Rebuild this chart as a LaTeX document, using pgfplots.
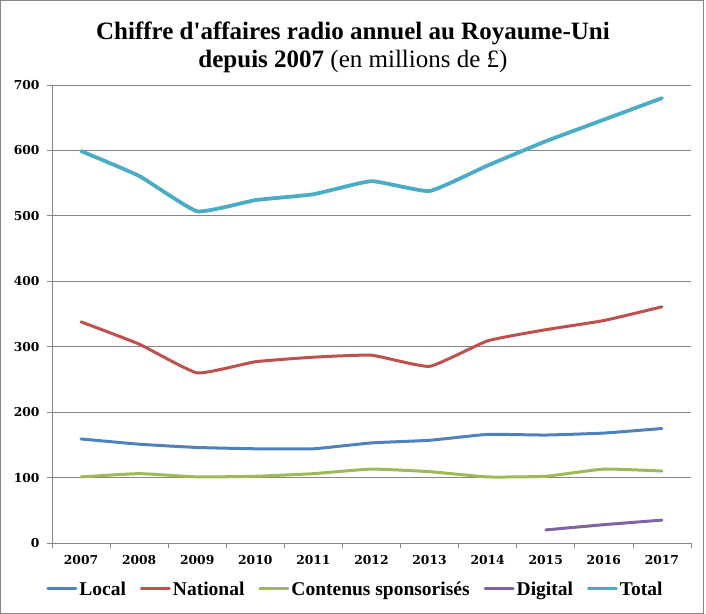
\documentclass[border=0pt]{standalone}
\usepackage{fontspec}
\setmainfont{Liberation Serif}
\newfontfamily\tickfont{DejaVu Serif}
\usepackage{pgfplots}
\pgfplotsset{compat=1.18}

\definecolor{cLocal}{HTML}{4F81BD}
\definecolor{cNational}{HTML}{C0504D}
\definecolor{cSponso}{HTML}{9BBB59}
\definecolor{cDigital}{HTML}{8064A2}
\definecolor{cTotal}{HTML}{4BACC6}
\definecolor{gridgray}{HTML}{868686}

\begin{document}
\begin{tikzpicture}
\path (0bp,0bp) rectangle (706bp,614bp);
\draw[gridgray,line width=1bp] (0.5bp,0.5bp) rectangle (703.5bp,613.5bp);

\node[align=center,font=\fontsize{25bp}{28bp}\selectfont] at (353bp,567bp)
  {\textbf{Chiffre d\textquotesingle affaires radio annuel au Royaume-Uni}\\
   \textbf{depuis 2007} (en millions de £)};

\begin{axis}[
  at={(52bp,71bp)}, anchor=south west,
  scale only axis, width=639bp, height=458bp,
  xmin=2006.5, xmax=2017.5,
  ymin=0, ymax=700,
  axis x line=bottom, axis y line=left,
  axis line style={-, gridgray, line width=0.8bp},
  xtick={2007,...,2017},
  minor xtick={2006.5,2007.5,...,2017.5},
  ytick={0,100,...,700},
  x tick label style={/pgf/number format/1000 sep={}},
  xticklabel style={yshift=-4bp},
  yticklabel style={xshift=-4bp},
  tick align=outside,
  major x tick style={draw=none},
  minor tick length=5bp, major tick length=5bp,
  tick style={gridgray, line width=0.8bp},
  ymajorgrids, grid style={gridgray, line width=0.8bp},
  /pgf/number format/assume math mode=true,
  ticklabel style={font=\tickfont\bfseries\fontsize{12.3bp}{14bp}\selectfont},
  legend columns=5,
  legend style={draw=none, fill=none, at={(0.5,-0.1004)}, anchor=center,
    xshift=-16bp,
    font=\bfseries\fontsize{19.5bp}{22bp}\selectfont,
    /tikz/every even column/.append style={column sep=12bp},
    inner sep=0pt},
  legend image code/.code={\draw[#1, line width=3bp] (0bp,0bp) -- (28bp,0bp);},
  every axis plot/.append style={smooth, tension=0.25, line cap=round},
  clip=false,
]
\addplot[cLocal, line width=3bp] coordinates {
(2007,159) (2008,151) (2009,146) (2010,144) (2011,144) (2012,153)
(2013,157) (2014,166) (2015,165) (2016,168) (2017,175)};
\addlegendentry{Local}
\addplot[cNational, line width=3bp] coordinates {
(2007,338) (2008,304) (2009,260) (2010,277) (2011,284) (2012,287)
(2013,270) (2014,309) (2015,326) (2016,340) (2017,361)};
\addlegendentry{National}
\addplot[cSponso, line width=3bp] coordinates {
(2007,101) (2008,106) (2009,101) (2010,102) (2011,106) (2012,113)
(2013,109) (2014,101) (2015,102) (2016,113) (2017,110)};
\addlegendentry{Contenus sponsorisés}
\addplot[cDigital, line width=3bp] coordinates {
(2015,20) (2016,28) (2017,35)};
\addlegendentry{Digital}
\addplot[cTotal, line width=3.8bp] coordinates {
(2007,599) (2008,561) (2009,507) (2010,524) (2011,533) (2012,553)
(2013,538) (2014,577) (2015,614) (2016,647) (2017,680)};
\addlegendentry{Total}
\end{axis}
\end{tikzpicture}
\end{document}
